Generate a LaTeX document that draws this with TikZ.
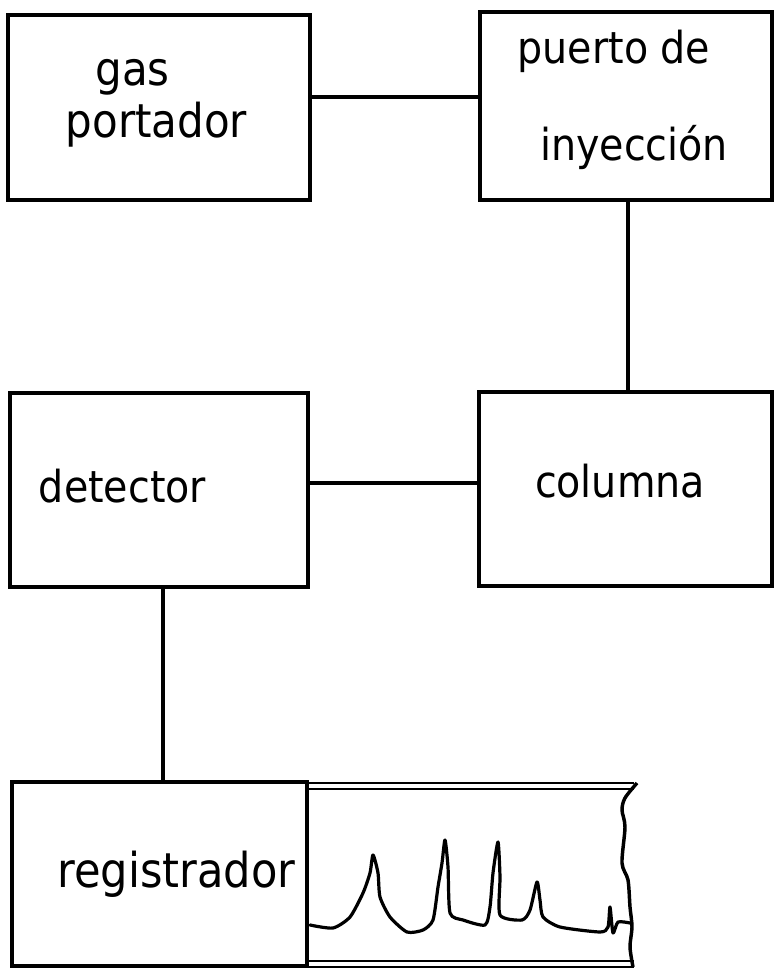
\documentclass[tikz,border=0pt]{standalone}
\usepackage{fontspec}
\setmainfont{DejaVu Sans Condensed}

\begin{document}
\begin{tikzpicture}[x=0.75pt, y=-0.75pt,
  box/.style={draw, line width=2.6pt, inner sep=0pt},
  lbl/.style={font=\fontsize{#1}{40}\selectfont, inner sep=0pt, anchor=base},
  lbl/.default=33,
  pipe/.style={line width=2.6pt},
  paper/.style={line width=2pt},
  trace/.style={line width=2.4pt, line join=round, line cap=round}]

\useasboundingbox (0,0) rectangle (776,971);

\node[box, minimum width=226.5pt, minimum height=138.75pt] (gas) at (159,107.5) {};
\node[box, minimum width=219pt, minimum height=141pt] (puerto) at (626,106) {};
\node[box, minimum width=223.5pt, minimum height=145.5pt] (detector) at (159,490) {};
\node[box, minimum width=219.75pt, minimum height=145.5pt] (columna) at (625.5,489) {};
\node[box, minimum width=221.25pt, minimum height=138pt] (registrador) at (159.5,874) {};

\node[lbl=35] (gas1) at (132.5,85) {gas};
\node[lbl=35] (gas2) at (156.5,137) {portador};
\node[lbl] (puerto1) at (614,63) {puerto de};
\node[lbl] (puerto2) at (634,160) {inyección};
\node[lbl] (det) at (122.5,502) {detector};
\node[lbl] (col) at (620,497) {columna};
\node[lbl=36] (reg) at (176.5,887) {registrador};

\draw[pipe] ([yshift=7.8pt]gas.east) -- ([yshift=7.8pt]gas.east -| puerto.west);
\draw[pipe] ([xshift=1.5pt]puerto.south) -- ([xshift=1.5pt]puerto.south |- columna.north);
\draw[pipe] ([yshift=5.2pt]detector.east) -- ([yshift=5.2pt]detector.east -| columna.west);
\draw[pipe] ([xshift=3pt]detector.south) -- ([xshift=3pt]detector.south |- registrador.north);

% chart paper
\foreach \y in {783,789,961,967} {\draw[paper] (307,\y) -- (634,\y);}
\draw[pipe] plot[smooth, tension=0.5] coordinates {(637,783) (625,798) (622,810) (625,827) (622,863) (628,880) (630,907) (632,927) (630,947) (633,967)};

% chromatogram
\draw[trace] plot[smooth, tension=0.4] coordinates {(310,925) (333,928) (350,917) (363,893) (370,873) (373,855) (378,873) (380,897) (390,917) (407,932) (423,930) (433,920) (438,887) (442,863) (445,840) (448,867) (450,913) (463,920) (485,925) (490,907) (493,873) (498,842) (500,877) (500,915) (522,920) (530,910) (537,882) (540,900) (543,917) (560,927) (600,932) (608,927) (610,907) (613,933) (618,922) (630,923)};

\end{tikzpicture}
\end{document}
